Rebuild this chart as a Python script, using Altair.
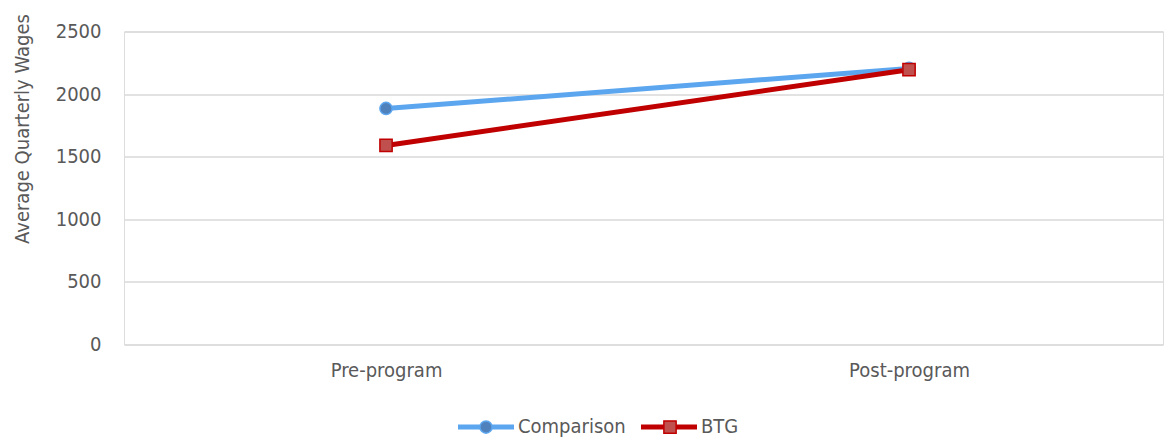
import altair as alt
import pandas as pd

# Average quarterly wages before and after the program
periods = ["Pre-program", "Post-program"]
series_names = ["Comparison", "BTG"]
comparison_wages = [1885, 2205]
btg_wages = [1590, 2195]
y_ticks = [0, 500, 1000, 1500, 2000, 2500]

line_colors = ["#5ca6ef", "#c00000"]
marker_fills = ["#4f81bd", "#c0504d"]
marker_shapes = ["circle", "square"]

FONT = "DejaVu Sans Condensed, DejaVu Sans, sans-serif"
TEXT = "#595959"
FS = 20

rows = []
for name, values in zip(series_names, [comparison_wages, btg_wages]):
    for period, v in zip(periods, values):
        rows.append({"period": period, "series": name, "marker": name, "wages": v})
df = pd.DataFrame(rows)

x_enc = alt.X(
    "period:N",
    sort=periods,
    scale=alt.Scale(type="point", padding=0.4933, align=0.5078),
    axis=alt.Axis(
        title=None, labelAngle=0, ticks=False, tickSize=0, domain=False,
        labelPadding=16, labelFontSize=FS, labelFont=FONT, labelColor=TEXT,
    ),
)
y_enc = alt.Y(
    "wages:Q",
    scale=alt.Scale(domain=[0, 2500], nice=False),
    axis=alt.Axis(
        title="Average Quarterly Wages", values=y_ticks, format="d", ticks=False,
        tickSize=0, domain=False, labelPadding=23, labelFontSize=FS, labelFont=FONT,
        labelColor=TEXT, grid=True, gridColor="#d9d9d9", gridWidth=1.5,
        titleFont=FONT, titleFontSize=FS, titleFontWeight="normal", titleColor=TEXT,
        titleAngle=270, titleX=-102, titleY=97, titleAlign="center",
        titleBaseline="middle",
    ),
)

# legend of the lines: a long stroke per series, with the labels
line_legend = alt.Legend(
    title=None, orient="none", direction="horizontal",
    legendX=352, legendY=385.5, symbolType="M-4,0H4", symbolSize=196,
    symbolStrokeWidth=5, labelOffset=22, labelFontSize=FS, labelFont=FONT,
    labelColor=TEXT, columnPadding=5, padding=0,
)
# legend of the markers (shape, fill and stroke together), laid on the strokes;
# its own labels are kept invisible
marker_legend = alt.Legend(
    title=None, orient="none", direction="horizontal",
    legendX=352.01, legendY=385.51, symbolSize=150, symbolStrokeWidth=1.5,
    symbolOpacity=1, labelOffset=22, labelFontSize=FS, labelFont=FONT,
    labelOpacity=0, columnPadding=34, padding=0,
)

# "Comparison" sorts before "BTG" in descending order
lines = alt.Chart(df).mark_line(strokeWidth=5).encode(
    x=x_enc,
    y=y_enc,
    color=alt.Color("series:N", sort="descending",
                    scale=alt.Scale(range=line_colors),
                    legend=line_legend),
)

points = alt.Chart(df).mark_point(filled=True, opacity=1, strokeWidth=1.5, size=150).encode(
    x=x_enc,
    y=y_enc,
    shape=alt.Shape("marker:N", sort="descending",
                    scale=alt.Scale(range=marker_shapes), legend=marker_legend),
    fill=alt.Fill("marker:N", sort="descending",
                  scale=alt.Scale(range=marker_fills), legend=marker_legend),
    stroke=alt.Stroke("marker:N", sort="descending",
                      scale=alt.Scale(range=line_colors), legend=marker_legend),
)

chart = alt.layer(lines, points).properties(
    width=1039, height=313,
    autosize=alt.AutoSizeParams(type="none"),
    padding={"left": 124, "top": 31.5, "right": 1, "bottom": 95.5},
).configure_view(stroke=None).configure(font=FONT)

chart.save("out.html", embed_options={"renderer": "svg", "actions": False})
